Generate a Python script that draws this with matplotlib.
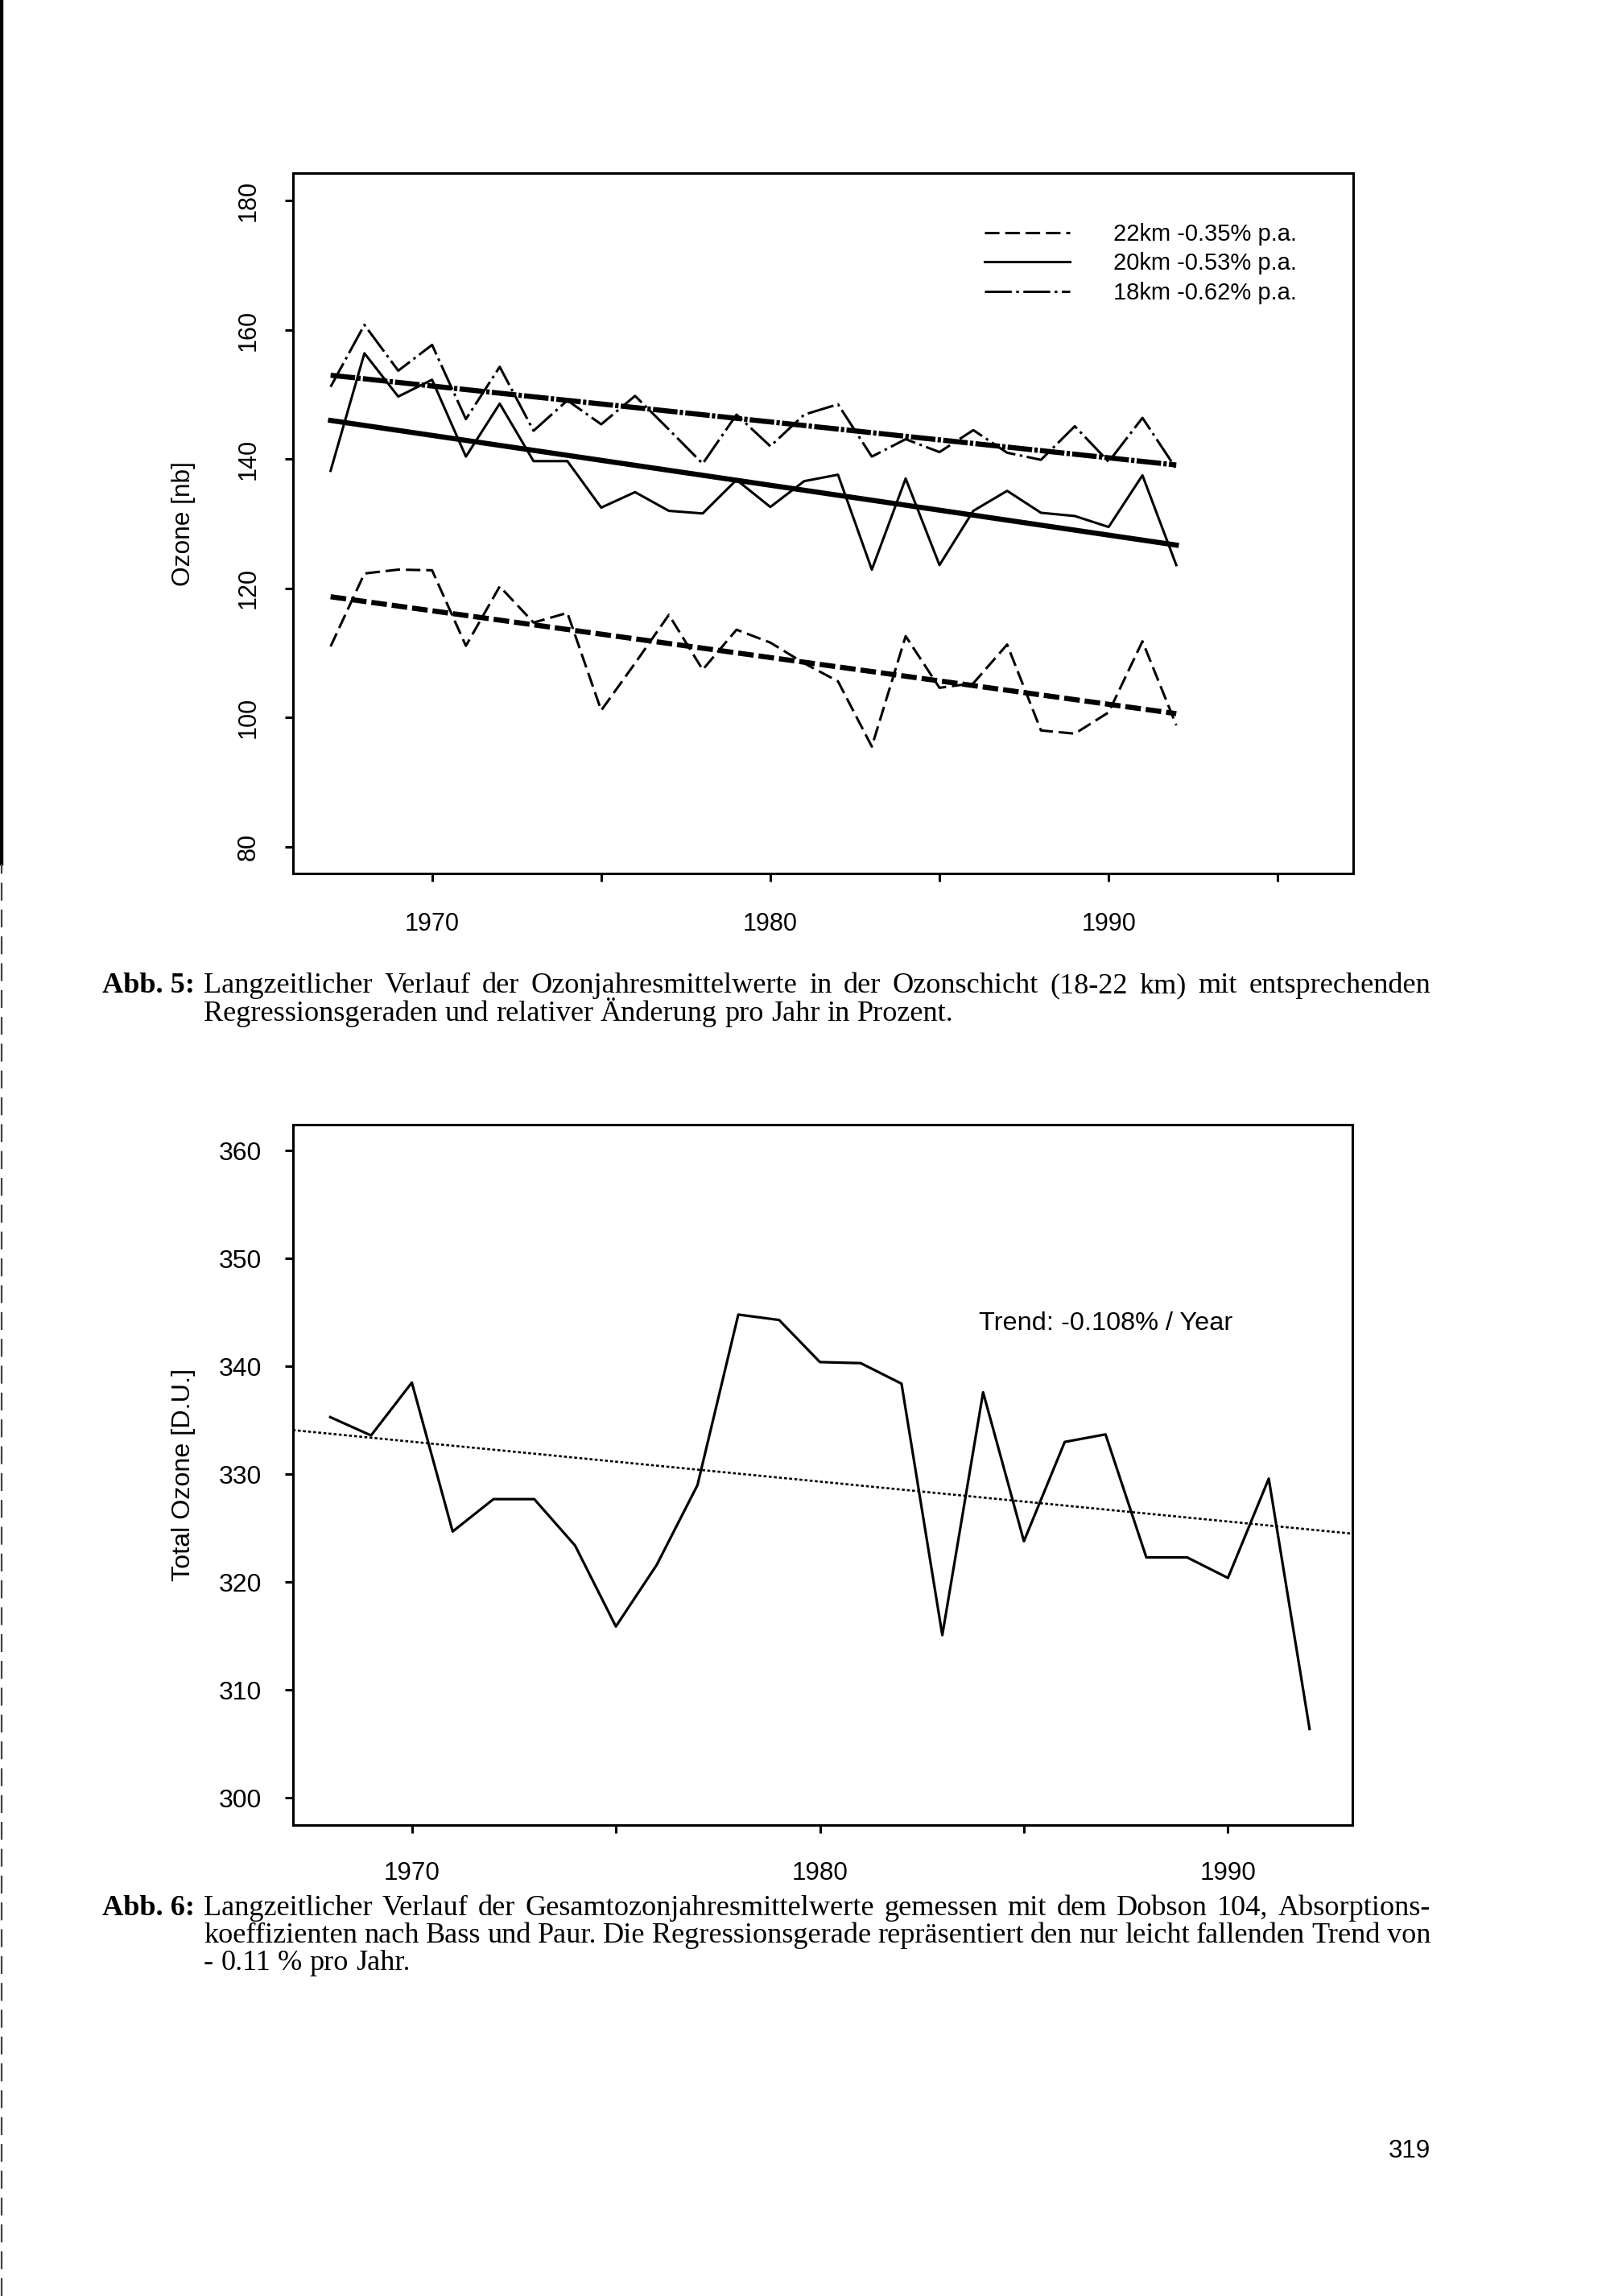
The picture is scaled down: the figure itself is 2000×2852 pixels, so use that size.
import matplotlib
matplotlib.use("Agg")
import matplotlib.pyplot as plt
from matplotlib.lines import Line2D
from matplotlib.ticker import FixedLocator, NullFormatter

# ---------------- data ----------------
years_layer = list(range(1967, 1993))
ozone_22km = [111.0, 122.3, 122.9, 122.8, 111.1, 120.3, 114.7, 116.2, 101.1, 108.4,
              115.9, 107.4, 113.6, 111.6, 108.4, 105.6, 95.5, 112.6, 104.6, 105.3,
              111.3, 98.0, 97.5, 100.8, 111.8, 98.8]
ozone_20km = [138.2, 156.4, 149.7, 152.3, 140.4, 148.6, 139.7, 139.7, 132.5, 134.9,
              132.0, 131.6, 136.8, 132.6, 136.6, 137.6, 122.9, 137.0, 123.6, 132.0,
              135.1, 131.7, 131.2, 129.5, 137.5, 123.6]
ozone_18km = [151.2, 160.8, 153.7, 157.7, 146.2, 154.3, 144.4, 149.1, 145.4, 149.8,
              144.6, 139.3, 146.9, 142.0, 146.9, 148.5, 140.4, 143.1, 141.1, 144.5,
              141.0, 139.9, 145.1, 139.6, 146.4, 138.5]
trend_years_layer = [1967, 1992]
trend_22km = [118.7, 100.6]
trend_20km = [146.0, 126.7]
trend_18km = [153.0, 139.1]
legend_labels = ["22km -0.35% p.a.", "20km -0.53% p.a.", "18km -0.62% p.a."]

years_total = list(range(1968, 1993))
total_ozone = [335.3, 333.6, 338.5, 324.7, 327.7, 327.7, 323.4, 315.9, 321.6, 329.0,
               344.8, 344.3, 340.4, 340.3, 338.4, 315.1, 337.6, 323.8, 333.0, 333.7,
               322.3, 322.3, 320.4, 329.6, 306.4]
trend_years_total = [1967.08, 1993.05]
trend_total = [334.1, 324.5]
trend_text = "Trend: -0.108% / Year"

year_labels = [1970, 1980, 1990]
layer_minor_years = [1975, 1985, 1995]
total_minor_years = [1975, 1985]
layer_yticks = [80, 100, 120, 140, 160, 180]
total_yticks = [300, 310, 320, 330, 340, 350, 360]

caption5 = [
    ("Abb. 5:", "Langzeitlicher Verlauf der Ozonjahresmittelwerte in der Ozonschicht (18-22 km) mit entsprechenden", True),
    ("", "Regressionsgeraden und relativer Änderung pro Jahr in Prozent.", False),
]
caption6 = [
    ("Abb. 6:", "Langzeitlicher Verlauf der Gesamtozonjahresmittelwerte gemessen mit dem Dobson 104, Absorptions-", True),
    ("", "koeffizienten nach Bass und Paur. Die Regressionsgerade repräsentiert den nur leicht fallenden Trend von", True),
    ("", "- 0.11 % pro Jahr.", False),
]
page_number = "319"

# ---------------- figure ----------------
plt.rcParams["font.family"] = ["Liberation Sans", "DejaVu Sans"]
plt.rcParams["lines.scale_dashes"] = False

W, H, DPI = 2000, 2852, 200
fig = plt.figure(figsize=(W / DPI, H / DPI), dpi=DPI)
fig.patch.set_facecolor("white")


def px_axes(left, top, right, bottom):
    return fig.add_axes([left / W, 1 - bottom / H, (right - left) / W, (bottom - top) / H])


def style_axes(ax):
    for s in ax.spines.values():
        s.set_linewidth(1.1)
        s.set_color("black")
    ax.tick_params(which="both", direction="out", length=3.6, width=1.1, color="black")


# ---------- top chart ----------
ax1 = px_axes(363.6, 215, 1681, 1085.4)
style_axes(ax1)
dash22 = (0, (6.5, 2.6))
dash18 = (0, (12, 2.0, 1.2, 2.0))
l22, = ax1.plot(years_layer, ozone_22km, color="black", lw=1.1, ls=dash22)
l20, = ax1.plot(years_layer, ozone_20km, color="black", lw=1.1, ls="-")
l18, = ax1.plot(years_layer, ozone_18km, color="black", lw=1.1, ls=dash18)
ax1.plot(trend_years_layer, trend_22km, color="black", lw=2.3, ls=(0, (7, 2.2)))
ax1.plot(trend_years_layer, trend_20km, color="black", lw=2.3, ls="-")
ax1.plot(trend_years_layer, trend_18km, color="black", lw=2.3, ls=(0, (11, 1.0, 1.5, 1.0)))

ax1.set_xlim(1965.88, 1997.23)
ax1.set_ylim(75.8, 184.3)
ax1.xaxis.set_major_locator(FixedLocator(year_labels))
ax1.xaxis.set_minor_locator(FixedLocator(layer_minor_years))
ax1.xaxis.set_minor_formatter(NullFormatter())
ax1.set_yticks(layer_yticks)
ax1.tick_params(axis="x", which="both", pad=13.5, labelsize=11)
ax1.tick_params(axis="y", pad=10.8, labelsize=11)
for lab in ax1.get_yticklabels():
    lab.set_rotation(90)
    lab.set_va("center")
ax1.set_ylabel("Ozone [nb]", fontsize=11.4, va="center")
ax1.yaxis.set_label_coords(-0.103, 0.5)

leg = ax1.legend([l22, l20, l18], legend_labels, loc="upper left",
                 bbox_to_anchor=(0.6525, 0.929), frameon=False, fontsize=10.5,
                 handlelength=3.63, handletextpad=1.85, labelspacing=0.29,
                 borderpad=0, borderaxespad=0)

# ---------- bottom chart ----------
ax2 = px_axes(363.6, 1397, 1680, 2267)
style_axes(ax2)
ax2.plot(years_total, total_ozone, color="black", lw=1.15, ls="-")
ax2.plot(trend_years_total, trend_total, color="black", lw=0.95, ls=(0, (1.3, 1.0)))
ax2.set_xlim(1967.08, 1993.05)
ax2.set_ylim(297.5, 362.4)
ax2.xaxis.set_major_locator(FixedLocator(year_labels))
ax2.xaxis.set_minor_locator(FixedLocator(total_minor_years))
ax2.xaxis.set_minor_formatter(NullFormatter())
ax2.set_yticks(total_yticks)
ax2.tick_params(axis="x", which="both", pad=12.5, labelsize=11.3)
ax2.tick_params(axis="y", pad=10.4, labelsize=11.5)
ax2.set_ylabel("Total Ozone [D.U.]", fontsize=11.6, va="center")
ax2.yaxis.set_label_coords(-0.103, 0.5)
ax2.text(1983.89, 344.0, trend_text, fontsize=11.7, va="center", ha="left")

# ---------- captions (justified like the printed page) ----------
renderer = fig.canvas.get_renderer()
SERIF = ["Liberation Serif", "DejaVu Serif"]


def text_width(s, fs, weight="normal"):
    t = fig.text(0, 0, s, fontsize=fs, family=SERIF, weight=weight)
    w = t.get_window_extent(renderer).width
    t.remove()
    return w


def place_line(words, x0, x1, y_base, fs, justify):
    widths = [text_width(w, fs) for w in words]
    space = text_width("a a", fs) - text_width("aa", fs)
    if justify and len(words) > 1:
        gap = (x1 - x0 - sum(widths)) / (len(words) - 1)
    else:
        gap = space
    x = x0
    for w, wd in zip(words, widths):
        fig.text(x / W, 1 - y_base / H, w, fontsize=fs, family=SERIF, va="baseline", ha="left")
        x += wd + gap


X_LABEL, X_BODY, X_END = 127, 253, 1777
ref_line = caption5[0][1]
fs_try = 12.0
natural = text_width(ref_line, fs_try)
FS = fs_try * (X_END - X_BODY) * 0.965 / natural


def place_caption(lines, baselines):
    for (label, body, just), yb in zip(lines, baselines):
        if label:
            fig.text(X_LABEL / W, 1 - yb / H, label, fontsize=FS, family=SERIF,
                     weight="bold", va="baseline", ha="left")
        place_line(body.split(" "), X_BODY, X_END, yb, FS, just)


place_caption(caption5, [1233, 1268])
place_caption(caption6, [2379, 2413, 2447])

fig.text(1751 / W, 1 - 2672 / H, page_number, fontsize=11.3, ha="center", va="center")

# scanner edge at the left margin
fig.add_artist(Line2D([0.0012, 0.0012], [1 - 1073 / H, 1.0], transform=fig.transFigure,
                      color="black", lw=1.6))
fig.add_artist(Line2D([0.0012, 0.0012], [0.0, 1 - 1073 / H], transform=fig.transFigure,
                      color="0.25", lw=0.8, ls=(0, (8, 4))))

fig.savefig("out.png", dpi=DPI, facecolor="white")
